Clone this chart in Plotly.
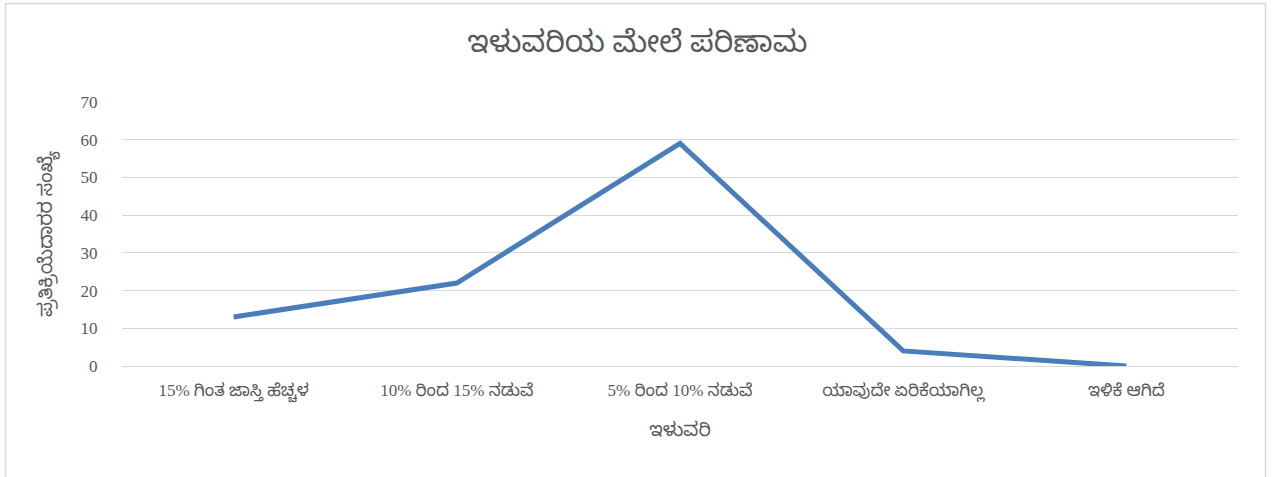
import plotly.graph_objects as go

categories = ["15% ಗಿಂತ ಜಾಸ್ತಿ ಹೆಚ್ಚಳ", "10% ರಿಂದ 15% ನಡುವೆ", "5% ರಿಂದ 10% ನಡುವೆ", "ಯಾವುದೇ ಏರಿಕೆಯಾಗಿಲ್ಲ", "ಇಳಿಕೆ ಆಗಿದೆ"]
values = [13, 22, 59, 4, 0]
title_text = "ಇಳುವರಿಯ ಮೇಲೆ ಪರಿಣಾಮ"
x_title = "ಇಳುವರಿ"
y_title = "ಪ್ರತಿಕ್ರಿಯೆದಾರರ ಸಂಖ್ಯೆ"

FONT = "Liberation Serif, Noto Sans Kannada, Noto Sans, sans-serif"
GRAY = "#595959"

fig = go.Figure()
fig.add_trace(go.Scatter(
    x=categories, y=values, mode="lines",
    line=dict(color="#4a7ebb", width=5, shape="linear"),
    hoverinfo="x+y",
))

fig.update_layout(
    width=1275, height=477,
    margin=dict(l=122, r=37, t=102, b=111),
    paper_bgcolor="white", plot_bgcolor="white",
    showlegend=False,
    font=dict(family=FONT, color=GRAY, size=16),
    title=dict(text=title_text, x=0.5, xanchor="center", y=0.914, yanchor="middle",
               font=dict(size=30, color=GRAY, family=FONT)),
    xaxis=dict(
        type="category", range=[-0.5, 4.5],
        showgrid=False, zeroline=False, showline=False,
        ticks="outside", ticklen=9, tickcolor="rgba(0,0,0,0)",
        tickfont=dict(size=17, color=GRAY),
        title=dict(text=x_title, font=dict(size=19, color=GRAY), standoff=20),
    ),
    yaxis=dict(
        range=[0, 70], dtick=10, tick0=0,
        showgrid=True, gridcolor="#d9d9d9", gridwidth=1,
        zeroline=True, zerolinecolor="#d9d9d9", zerolinewidth=1,
        showline=False, ticks="outside", ticklen=20, tickcolor="rgba(0,0,0,0)",
        tickfont=dict(size=17, color=GRAY),
        title=dict(text=y_title, font=dict(size=19, color=GRAY), standoff=22),
    ),
    shapes=[dict(type="rect", xref="paper", yref="paper",
                 x0=(5.5 - 122) / 1116, x1=(1265.5 - 122) / 1116,
                 y0=-0.6, y1=(366 - 3.5) / 264,
                 line=dict(color="#d9d9d9", width=1.5), fillcolor="rgba(0,0,0,0)",
                 layer="below")],
)

fig.write_html("out.html", config={"displayModeBar": False},
               post_script="document.body.style.margin='0';document.body.style.overflow='hidden';")
